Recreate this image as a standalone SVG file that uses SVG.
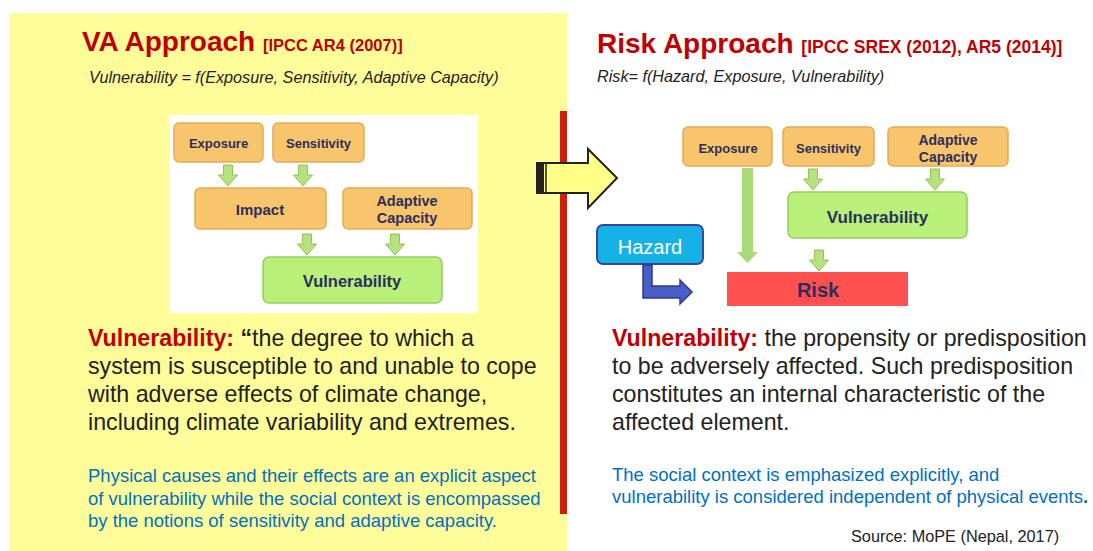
<svg xmlns="http://www.w3.org/2000/svg" width="1093" height="551" viewBox="0 0 1093 551">
<defs>
<style>
.ob{fill:#F8C46C;stroke:#E2AC58;stroke-width:1.5}
.gb{fill:#B8F07A;stroke:#98CC60;stroke-width:1.5}
.bt{font-family:"Liberation Sans",Arial,sans-serif;font-weight:bold;fill:#2C2F5E;text-anchor:middle}
.title{font-family:"Liberation Sans",Arial,sans-serif;font-weight:bold;fill:#C00000}
.it{font-family:"Liberation Sans",Arial,sans-serif;font-style:italic;font-size:16.2px;fill:#222}
.body{font-family:"Liberation Sans",Arial,sans-serif;font-size:23.2px;fill:#222}
.red{fill:#C00000;font-weight:bold}
.blue{font-family:"Liberation Sans",Arial,sans-serif;font-size:18.5px;fill:#0070C0}
.sa{fill:#B5E27E;stroke:#8EC45A;stroke-width:1}
</style>
<path id="sarrow" d="M-4.5,0 H4.5 V10 H9.5 L0,21 L-9.5,10 H-4.5 Z"/>
</defs>

<rect x="9" y="13" width="558" height="538" fill="#FFFD99"/>
<rect x="560" y="111" width="7" height="403" fill="#C8200E"/>

<g id="titles">
<text class="title" x="82" y="51" font-size="28">VA Approach <tspan font-size="16.5">[IPCC AR4 (2007)]</tspan></text>
<text class="it" x="89" y="83">Vulnerability = f(Exposure, Sensitivity, Adaptive Capacity)</text>
<text class="title" x="597" y="53" font-size="28">Risk Approach <tspan font-size="17.5">[IPCC SREX (2012), AR5 (2014)]</tspan></text>
<text class="it" x="597" y="82">Risk= f(Hazard, Exposure, Vulnerability)</text>
</g>

<g id="big-arrow">
<path d="M537,163 H588 V149 L617,178 L588,208 V193 H537 Z" fill="#FFFF88" stroke="#222" stroke-width="2"/>
<rect x="537" y="163" width="7" height="30" fill="#222"/>
<line x1="546" y1="163" x2="546" y2="193" stroke="#222" stroke-width="1.5"/>
</g>

<rect x="169" y="115" width="309" height="198" fill="#FFFFFF"/>

<g id="va-exposure"><rect class="ob" x="174" y="123" width="89" height="39" rx="5"/><text class="bt" x="218.5" y="148" font-size="13">Exposure</text></g>
<g id="va-sensitivity"><rect class="ob" x="273" y="123" width="91" height="39" rx="5"/><text class="bt" x="318.5" y="148" font-size="13">Sensitivity</text></g>
<g id="va-impact"><rect class="ob" x="195" y="188" width="131" height="41" rx="5"/><text class="bt" x="260" y="214.5" font-size="15">Impact</text></g>
<g id="va-adaptive"><rect class="ob" x="343" y="188" width="129" height="41" rx="5"/><text class="bt" x="407" y="206" font-size="14.5">Adaptive</text><text class="bt" x="407" y="223" font-size="14.5">Capacity</text></g>
<g id="va-vulnerability"><rect class="gb" x="263" y="257" width="179" height="46" rx="6"/><text class="bt" x="352" y="286.5" font-size="16.5">Vulnerability</text></g>

<g id="ra-exposure"><rect class="ob" x="683" y="127" width="89" height="39" rx="5"/><text class="bt" x="728" y="152.5" font-size="13">Exposure</text></g>
<g id="ra-sensitivity"><rect class="ob" x="783" y="127" width="91" height="39" rx="5"/><text class="bt" x="828.5" y="152.5" font-size="13">Sensitivity</text></g>
<g id="ra-adaptive"><rect class="ob" x="888" y="127" width="120" height="39" rx="5"/><text class="bt" x="948" y="145" font-size="14">Adaptive</text><text class="bt" x="948" y="162" font-size="14">Capacity</text></g>
<g id="ra-vulnerability"><rect class="gb" x="788" y="192" width="179" height="46" rx="6"/><text class="bt" x="877.5" y="222.5" font-size="17">Vulnerability</text></g>
<g id="ra-risk"><rect x="727" y="272" width="181" height="34" fill="#FF5050"/><text class="bt" x="818" y="297" font-size="20" fill="#1F2A5A">Risk</text></g>
<g id="ra-hazard"><rect x="597" y="225" width="106" height="39" rx="6" fill="#16B2E6" stroke="#35479E" stroke-width="2"/><text x="650" y="254" font-family="Liberation Sans,Arial,sans-serif" font-size="20" fill="#FFFFFF" text-anchor="middle">Hazard</text></g>

<g id="connectors">
<use href="#sarrow" class="sa" x="228" y="165"/>
<use href="#sarrow" class="sa" x="303" y="165"/>
<use href="#sarrow" class="sa" x="307" y="234"/>
<use href="#sarrow" class="sa" x="395" y="234"/>
<use href="#sarrow" class="sa" x="813" y="169"/>
<use href="#sarrow" class="sa" x="935" y="169"/>
<use href="#sarrow" class="sa" x="819" y="250"/>
<path d="M742,168 H753 V252 H758 L747.5,263 L737,252 H742 Z" fill="#A8DA78"/>
<path d="M643,265 H652 V286 H680 V280 L692,292 L680,304 V298 H643 Z" fill="#4A5EC8" stroke="#2E3A8A" stroke-width="1.5"/>
</g>

<g id="text-left">
<text class="body" x="88" y="346"><tspan class="red">Vulnerability: </tspan><tspan font-weight="bold">“</tspan>the degree to which a</text>
<text class="body" x="88" y="374">system is susceptible to and unable to cope</text>
<text class="body" x="88" y="402">with adverse effects of climate change,</text>
<text class="body" x="88" y="430">including climate variability and extremes.</text>
<text class="blue" x="88" y="482">Physical causes and their effects are an explicit aspect</text>
<text class="blue" x="88" y="504.5">of vulnerability while the social context is encompassed</text>
<text class="blue" x="88" y="527">by the notions of sensitivity and adaptive capacity.</text>
</g>

<g id="text-right">
<text class="body" x="612" y="346"><tspan class="red">Vulnerability:</tspan> the propensity or predisposition</text>
<text class="body" x="612" y="374">to be adversely affected. Such predisposition</text>
<text class="body" x="612" y="402">constitutes an internal characteristic of the</text>
<text class="body" x="612" y="430">affected element.</text>
<text class="blue" x="612" y="481">The social context is emphasized explicitly, and</text>
<text class="blue" x="612" y="503">vulnerability is considered independent of physical events<tspan font-weight="bold">.</tspan></text>
<text x="851" y="542" font-family="Liberation Sans,Arial,sans-serif" font-size="16.3" fill="#222">Source: MoPE (Nepal, 2017)</text>
</g>
</svg>
